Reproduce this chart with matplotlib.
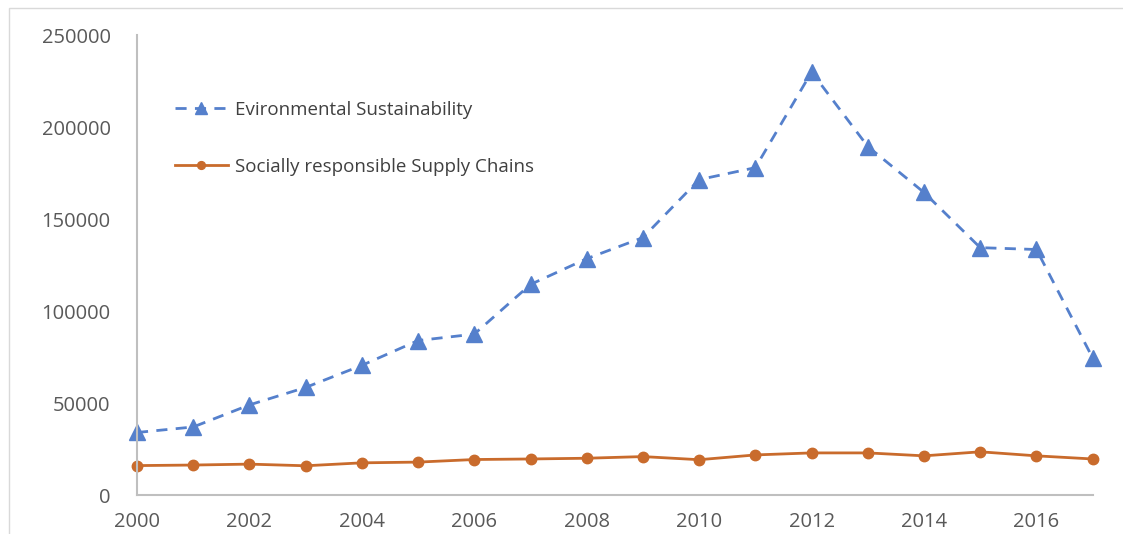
import matplotlib.pyplot as plt

years = list(range(2000, 2018))
env_sustainability = [34000, 37000, 49000, 58500, 70500, 84000, 87500, 114500, 128500,
                      140000, 171500, 178000, 230000, 189500, 164500, 134500, 133500, 74500]
social_supply = [16000, 16300, 16800, 15900, 17500, 17900, 19300, 19600, 20000,
                 20900, 19200, 21800, 22900, 22900, 21300, 23500, 21300, 19600]

blue = '#5580CC'
orange = '#C96B2C'
gray = '#595959'

plt.rcParams['font.family'] = ['Open Sans', 'DejaVu Sans']

fig = plt.figure(figsize=(11.23, 5.34), dpi=100)
ax = fig.add_axes([0.122, 0.073, 0.851, 0.861])

ax.plot(years, env_sustainability, color=blue, linestyle=(0, (4, 3)), linewidth=2,
        marker='^', markersize=12, label='Evironmental Sustainability', clip_on=False)
ax.plot(years, social_supply, color=orange, linewidth=2,
        marker='o', markersize=7.5, label='Socially responsible Supply Chains', clip_on=False)

ax.set_xlim(2000, 2017)
ax.set_ylim(0, 250000)
ax.set_xticks(range(2000, 2017, 2))
ax.set_yticks(range(0, 250001, 50000))

for side in ['top', 'right']:
    ax.spines[side].set_visible(False)
for side in ['left', 'bottom']:
    ax.spines[side].set_color('#BFBFBF')
    ax.spines[side].set_linewidth(1.5)

ax.tick_params(length=0, labelsize=14.5, colors=gray)
ax.tick_params(axis='y', pad=19)
ax.tick_params(axis='x', pad=12)

leg = ax.legend(loc='upper left', bbox_to_anchor=(0.04, 0.858), frameon=False,
                borderpad=0, borderaxespad=0,
                fontsize=13.5, labelspacing=2.1, handlelength=2.8, markerscale=0.75,
                handletextpad=0.4)
for t in leg.get_texts():
    t.set_color('#404040')

# light frame around the chart area
fig.patches.append(plt.Rectangle((0.008, -0.05), 1.1, 1.035, transform=fig.transFigure,
                                 fill=False, edgecolor='#D9D9D9', linewidth=1))

fig.savefig('out.png', dpi=100)
